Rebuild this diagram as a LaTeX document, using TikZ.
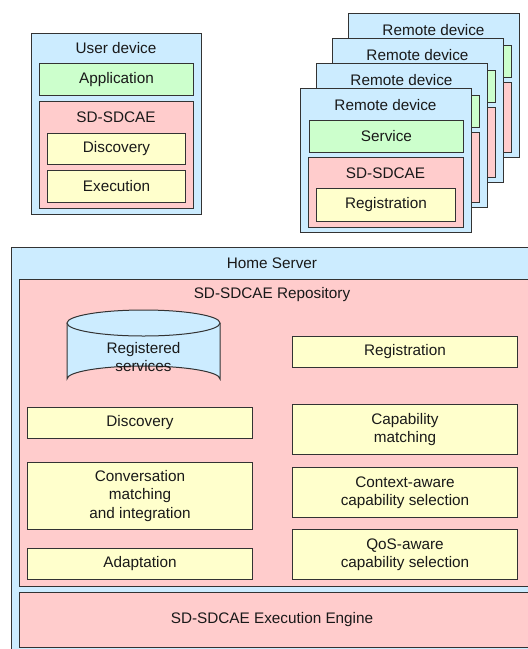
\documentclass[tikz,border=0pt]{standalone}
\usepackage{fontspec}
\setmainfont{Liberation Sans}
\begin{document}
\begin{tikzpicture}[x=1pt,y=-1pt,
  every node/.style={font=\fontsize{15.3}{18.5}\selectfont, text=black!90},
  bx/.style={draw=black!80, line width=1pt, inner sep=0pt, anchor=north west, align=center},
  bluebox/.style={bx, fill=myblue},
  greenbox/.style={bx, fill=mygreen},
  pinkbox/.style={bx, fill=mypink},
  yellowbox/.style={bx, fill=myyellow},
  lbl/.style={inner sep=0pt}
]
\definecolor{myblue}{HTML}{CCECFF}
\definecolor{mygreen}{HTML}{CCFFCC}
\definecolor{mypink}{HTML}{FFCCCC}
\definecolor{myyellow}{HTML}{FFFFCC}
\useasboundingbox (0,0) rectangle (528,649);
\clip (0,0) rectangle (528,649);
\fill[white] (0,0) rectangle (528,649);

% User device
\node[bluebox, minimum width=170pt, minimum height=181pt] (ud) at (31,33) {};
\node[lbl] (udl) at (116,48) {User device};
\node[greenbox, minimum width=154pt, minimum height=32pt] (app) at (39,63) {Application};
\node[pinkbox, minimum width=154pt, minimum height=107pt] (usd) at (39,101) {};
\node[lbl] (usdl) at (116,117) {SD-SDCAE};
\node[yellowbox, minimum width=138pt, minimum height=31pt] (udisc) at (47,133) {Discovery};
\node[yellowbox, minimum width=138pt, minimum height=32pt] (uexec) at (47,170) {Execution};

% Remote devices behind (only their edges show)
\foreach \k in {3,2,1}{
  \begin{scope}[shift={(16*\k,-25*\k)}]
    \node[bluebox, minimum width=171pt, minimum height=144pt] (rd\k) at (300,88) {};
    \node[lbl] (rdl\k) at (385.5,105) {Remote device};
    \node[greenbox, minimum width=154pt, minimum height=32pt] (svc\k) at (309,120) {};
    \node[pinkbox, minimum width=155pt, minimum height=70pt] (rsd\k) at (308,157) {};
  \end{scope}
}
% Front remote device
\node[bluebox, minimum width=171pt, minimum height=144pt] (rd0) at (300,88) {};
\node[lbl] (rdl0) at (385.5,105) {Remote device};
\node[greenbox, minimum width=154pt, minimum height=32pt] (svc0) at (309,120) {Service};
\node[pinkbox, minimum width=155pt, minimum height=70pt] (rsd0) at (308,157) {};
\node[lbl] (rsdl0) at (385.5,173) {SD-SDCAE};
\node[yellowbox, minimum width=139pt, minimum height=33pt] (rreg0) at (316,188) {Registration};

% Home server
\node[bluebox, minimum width=527pt, minimum height=420pt] (hs) at (11,247) {};
\node[lbl] (hsl) at (272,263) {Home Server};
\node[pinkbox, minimum width=512pt, minimum height=307pt] (repo) at (19,279) {};
\node[lbl] (repol) at (272,295) {SD-SDCAE Repository};

% cylinder
\fill[myblue] (67,323) -- (67,379) arc[start angle=180,end angle=360,x radius=76.5,y radius=13]
  -- (220,323) arc[start angle=0,end angle=180,x radius=76.5,y radius=13] -- cycle;
\draw[black!80, line width=1pt] (67,323) -- (67,379) arc[start angle=180,end angle=360,x radius=76.5,y radius=13] -- (220,323);
\draw[black!80, line width=1pt, fill=myblue] (143.5,323) ellipse[x radius=76.5, y radius=13];
\node[lbl, align=center] (regsvc) at (143.5,357) {Registered\\services};

\node[yellowbox, minimum width=225pt, minimum height=31pt] (hreg) at (292,336) {Registration};
\node[yellowbox, minimum width=225pt, minimum height=31pt] (hdisc) at (27,407) {Discovery};
\node[yellowbox, minimum width=225pt, minimum height=50pt] (capm) at (292,404) {Capability\\matching};
\node[yellowbox, minimum width=225pt, minimum height=67pt] (conv) at (27,462) {Conversation\\matching\\and integration};
\node[yellowbox, minimum width=225pt, minimum height=50pt] (ctx) at (292,467) {Context-aware\\capability selection};
\node[yellowbox, minimum width=225pt, minimum height=31pt] (adapt) at (27,548) {Adaptation};
\node[yellowbox, minimum width=225pt, minimum height=50pt] (qos) at (292,529) {QoS-aware\\capability selection};

\node[pinkbox, minimum width=512pt, minimum height=55pt] (exec) at (19,592) {};
\node[lbl] (execl) at (272,620) {SD-SDCAE Execution Engine};
\end{tikzpicture}
\end{document}
